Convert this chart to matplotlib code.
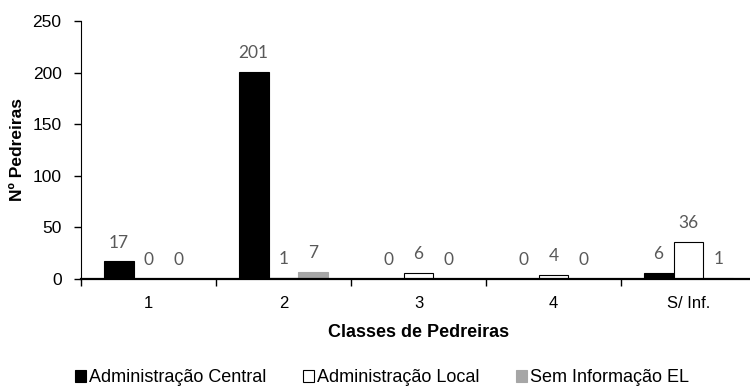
import numpy as np
import matplotlib.pyplot as plt

# data
categories = ['1', '2', '3', '4', 'S/ Inf.']
central = [17, 201, 0, 0, 6]
local = [0, 1, 6, 4, 36]
sem_info = [0, 7, 0, 0, 1]
series_names = ['Administração Central', 'Administração Local', 'Sem Informação EL']

plt.rcParams['font.family'] = ['Liberation Sans', 'DejaVu Sans']

fig = plt.figure(figsize=(7.5, 3.88), dpi=100)
ax = fig.add_axes([0.108, 0.281, 0.9, 0.665])

x = np.arange(len(categories))
w = 0.222
styles = [
    dict(color='black', edgecolor='black'),
    dict(color='white', edgecolor='black'),
    dict(color='#a6a6a6', edgecolor='#a6a6a6'),
]
for i, (vals, name, st) in enumerate(zip([central, local, sem_info], series_names, styles)):
    bars = ax.bar(x + (i - 1) * w, vals, w, label=name, linewidth=0.8, **st)
    for b, v in zip(bars, vals):
        ax.annotate(str(v), (b.get_x() + b.get_width() / 2, v),
                    xytext=(0, 10), textcoords='offset points',
                    ha='center', va='baseline', fontsize=12.5,
                    color='#595959', family=['Lato', 'DejaVu Sans'])

ax.set_xlim(-0.5, len(categories) - 0.5)
ax.set_ylim(0, 250)
ax.set_yticks(range(0, 251, 50))
ax.set_xticks(x)
ax.set_xticklabels(categories)
ax.set_xticks(np.arange(-0.5, len(categories)), minor=True)

ax.tick_params(axis='x', which='major', length=0, pad=12.5, labelsize=12)
ax.tick_params(axis='x', which='minor', length=5, width=1, direction='out')
ax.tick_params(axis='y', length=5, width=1, pad=9, labelsize=12.5)

for s in ['top', 'right']:
    ax.spines[s].set_visible(False)
ax.spines['bottom'].set_linewidth(1.6)
ax.spines['left'].set_linewidth(0.8)

ax.set_ylabel('Nº Pedreiras', fontsize=12.5, fontweight='bold', labelpad=5)
ax.set_xlabel('Classes de Pedreiras', fontsize=13, fontweight='bold', labelpad=9)

ax.legend(loc='center', bbox_to_anchor=(382 / 750, 1 - 378 / 388),
          bbox_transform=fig.transFigure, ncol=3, frameon=False,
          fontsize=13, handlelength=0.6, handleheight=0.6,
          handletextpad=0.2, columnspacing=2.0, borderpad=0)

fig.savefig('out.png', dpi=100)
